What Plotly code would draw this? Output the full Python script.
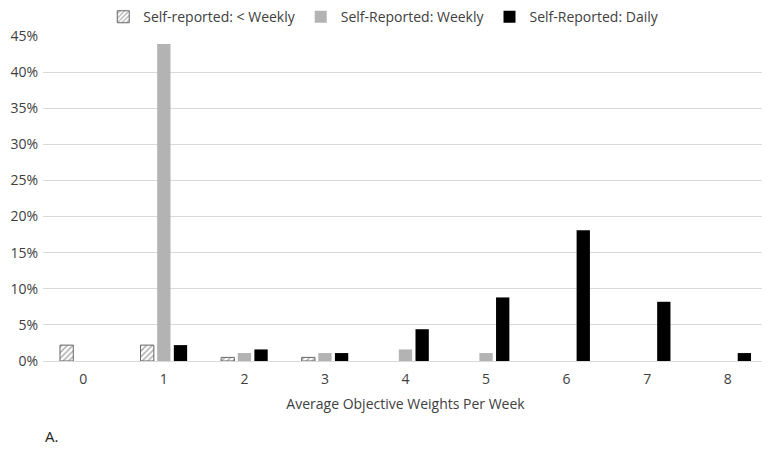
import plotly.graph_objects as go

weights = [0, 1, 2, 3, 4, 5, 6, 7, 8]
less_weekly = [2.2, 2.2, 0.5, 0.5, None, None, None, None, None]
weekly = [None, 43.9, 1.1, 1.1, 1.6, 1.1, None, None, None]
daily = [None, 2.2, 1.6, 1.1, 4.4, 8.8, 18.1, 8.2, 1.1]
y_ticks = [0, 5, 10, 15, 20, 25, 30, 35, 40, 45]
y_labels = [f"{v}%" for v in y_ticks]

font = "Open Sans, Noto Sans, sans-serif"

fig = go.Figure()

fig.add_trace(go.Bar(
    x=weights, y=less_weekly, name="Self-reported: < Weekly",
    marker=dict(color="white", line=dict(color="#666666", width=1),
                pattern=dict(shape="/", fgcolor="#4d4d4d", bgcolor="white",
                             size=4, solidity=0.35)),
))
fig.add_trace(go.Bar(
    x=weights, y=weekly, name="Self-Reported: Weekly",
    marker=dict(color="#b3b3b3", line=dict(width=0)),
))
fig.add_trace(go.Bar(
    x=weights, y=daily, name="Self-Reported: Daily",
    marker=dict(color="#000000", line=dict(width=0)),
))

# page body adds an 8px offset, so margins are trimmed to compensate
fig.update_layout(
    width=770, height=472,
    margin=dict(l=35, r=10, t=28, b=119, autoexpand=False),
    paper_bgcolor="white", plot_bgcolor="white",
    barmode="group", bargap=0.38, bargroupgap=0.2,
    font=dict(family=font, size=14, color="#404040"),
    legend=dict(orientation="h", x=0.47, xanchor="center", y=1.058, yanchor="middle",
                font=dict(size=14, color="#404040"), itemwidth=30,
                traceorder="normal", tracegroupgap=20),
    xaxis=dict(
        tickvals=weights, ticktext=[str(w) for w in weights],
        range=[-0.5, 8.5], showgrid=False, zeroline=False, ticks="",
        ticklabelstandoff=8,
        title=dict(text="Average Objective Weights Per Week", font=dict(size=14, color="#404040"), standoff=12),
        showline=False, automargin=False,
    ),
    yaxis=dict(
        range=[0, 45], tickvals=y_ticks, ticktext=y_labels,
        showgrid=True, gridcolor="#d9d9d9", gridwidth=1,
        zeroline=True, zerolinecolor="#d9d9d9", zerolinewidth=1,
        ticks="", ticklabelstandoff=4,
        tickfont=dict(size=14, color="#404040"), automargin=False,
    ),
    annotations=[dict(text="A.", xref="paper", yref="paper", x=0, y=-0.23,
                      xanchor="left", yanchor="middle", showarrow=False,
                      font=dict(size=15, color="#222222"))],
)

fig.write_html("out.html")
